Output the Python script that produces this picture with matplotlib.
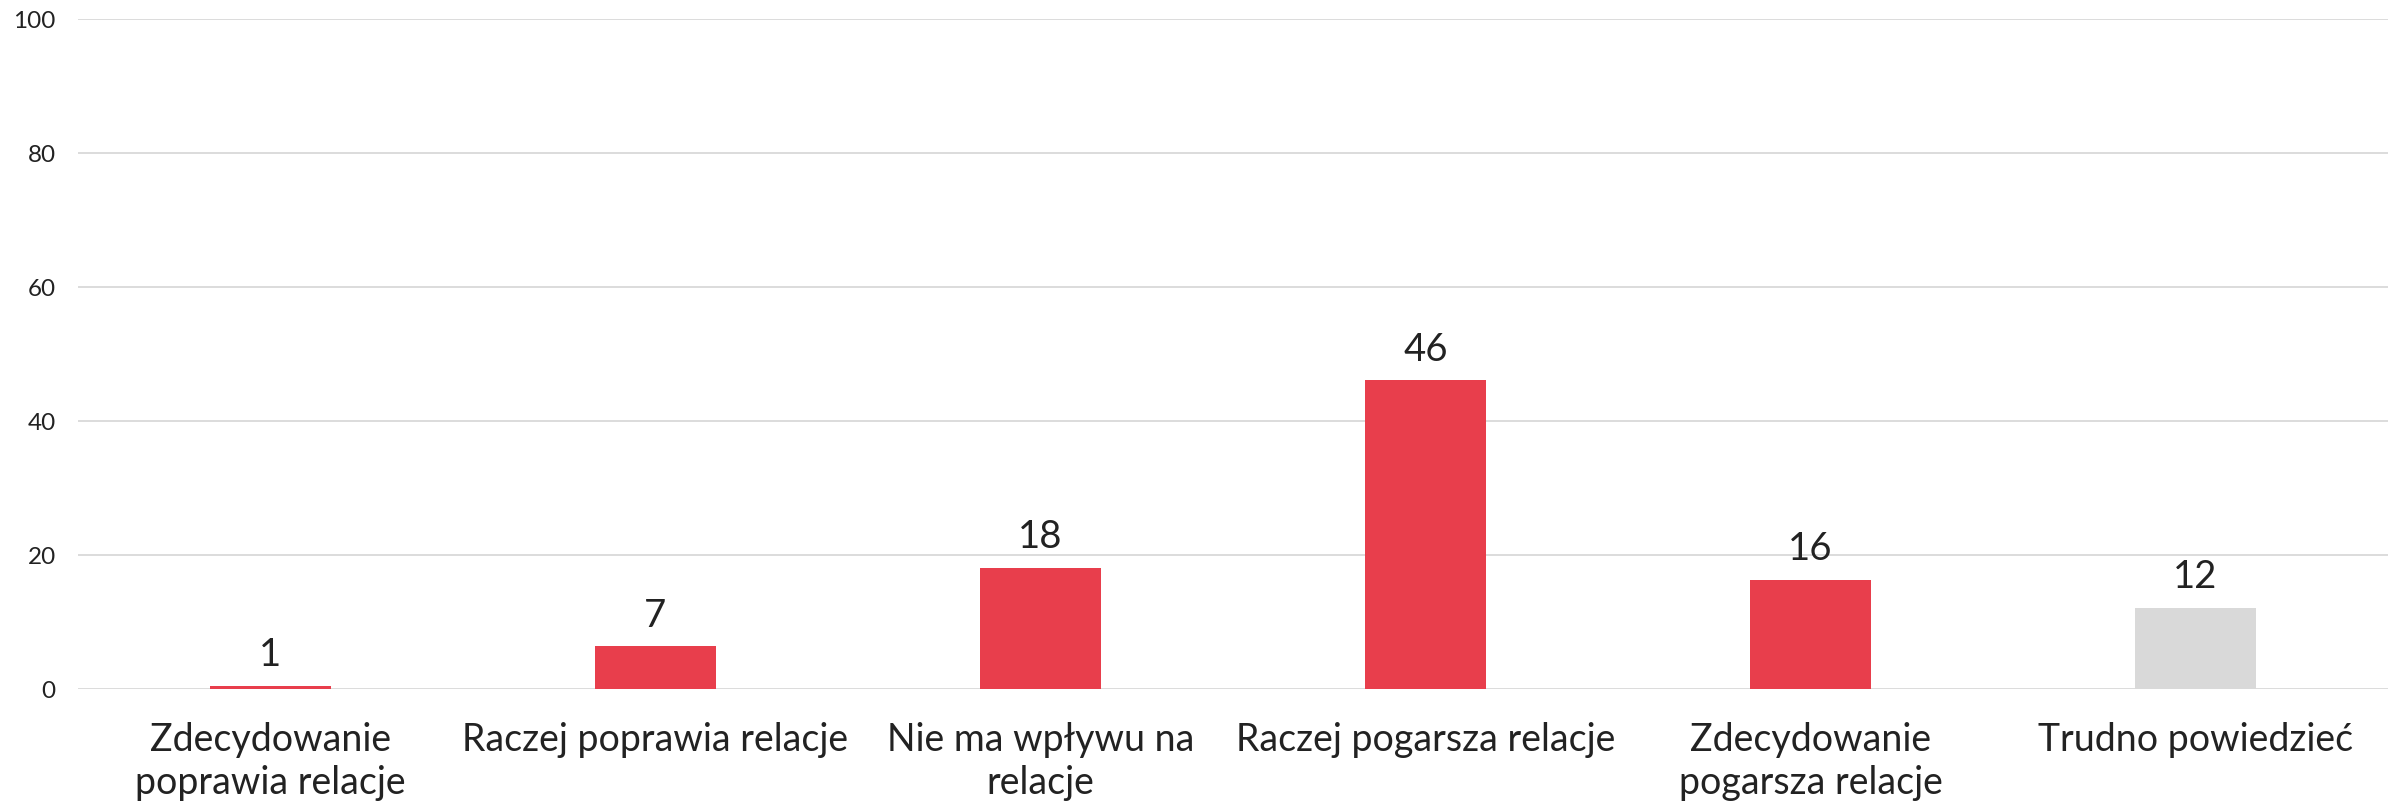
import matplotlib
matplotlib.use("Agg")
import matplotlib.pyplot as plt

categories = ["Zdecydowanie\npoprawia relacje", "Raczej poprawia relacje",
              "Nie ma wpływu na\nrelacje", "Raczej pogarsza relacje",
              "Zdecydowanie\npogarsza relacje", "Trudno powiedzieć"]
values = [0.5, 6.4, 18.1, 46.1, 16.3, 12.1]
value_labels = ["1", "7", "18", "46", "16", "12"]
colors = ["#e83e4c", "#e83e4c", "#e83e4c", "#e83e4c", "#e83e4c", "#d9d9d9"]
yticks = [0, 20, 40, 60, 80, 100]

plt.rcParams['font.family'] = ['Lato', 'DejaVu Sans']

fig = plt.figure(figsize=(24.08, 8.05), dpi=100)
ax = fig.add_axes([78/2408, 1-689/805, (2388-78)/2408, (689-19)/805])

x = list(range(len(categories)))
bars = ax.bar(x, values, width=0.312, color=colors, zorder=3)
for xi, v, lab in zip(x, values, value_labels):
    ax.annotate(lab, (xi, v), xytext=(0, 9), textcoords="offset points",
                ha="center", va="bottom", fontsize=27.5, color="#222222")

ax.set_xlim(-0.5, len(categories) - 0.5)
ax.set_ylim(0, 100)
ax.set_yticks(yticks)
ax.set_yticklabels([str(t) for t in yticks], fontsize=17.5, color="#222222")
ax.set_xticks(x)
ax.set_xticklabels(categories, fontsize=27, color="#222222", linespacing=1.22)
ax.tick_params(axis="both", length=0)
ax.tick_params(axis="y", pad=16)
ax.tick_params(axis="x", pad=24)
ax.yaxis.grid(True, color="#d9d9d9", linewidth=1.3, zorder=0)
ax.set_axisbelow(True)
for s in ax.spines.values():
    s.set_visible(False)

fig.savefig("out.png", dpi=100, facecolor="white")
